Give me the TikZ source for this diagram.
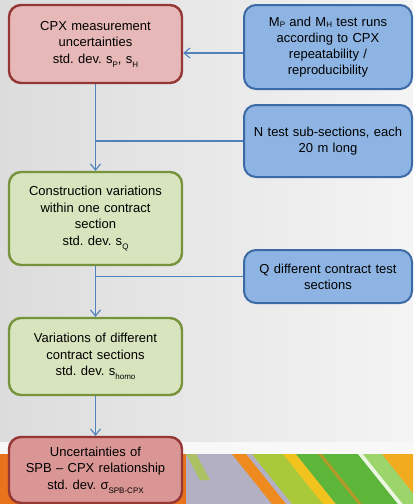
\documentclass[tikz,border=0pt]{standalone}
\usepackage{fontspec}
\setmainfont{Liberation Sans}
\usetikzlibrary{arrows.meta}
\frenchspacing
\definecolor{redfillA}{HTML}{E6B9B8}
\definecolor{redfillB}{HTML}{D99694}
\definecolor{redline}{HTML}{953735}
\definecolor{greenfill}{HTML}{D7E4BD}
\definecolor{greenline}{HTML}{77933C}
\definecolor{bluefill}{HTML}{8DB4E2}
\definecolor{blueline}{HTML}{3C6AA5}
\definecolor{conn}{HTML}{4F81BD}
\definecolor{bgl}{HTML}{DCDCDC}
\definecolor{bgr}{HTML}{F4F4F4}
\definecolor{orangeS}{HTML}{E8731C}
\definecolor{stripgray}{HTML}{B2B0C2}
\definecolor{stripor}{HTML}{EE8A1E}
\definecolor{stripyg}{HTML}{A9C83A}
\definecolor{stripyel}{HTML}{F2C21E}
\definecolor{stripgr}{HTML}{5DB53A}
\definecolor{striplg}{HTML}{9CD66A}
\newcommand\lowsub[1]{\raisebox{-4pt}{\fontsize{8}{8}\selectfont #1}}
\newcommand\msub[1]{\raisebox{-1pt}{\fontsize{8}{8}\selectfont #1}}
\begin{document}
\begin{tikzpicture}[x=1pt,y=-1pt,
  box/.style={rounded corners=12pt, align=center, inner sep=2pt,
    font=\fontsize{13}{16.5}\selectfont, text=black},
  redbox/.style={box, draw=redline, fill=redfillA, line width=2.4pt, minimum width=173pt, text width=165pt},
  greenbox/.style={box, draw=greenline, fill=greenfill, line width=2.4pt, minimum width=173pt, text width=165pt},
  bluebox/.style={box, draw=blueline, fill=bluefill, line width=2pt, minimum width=168pt, text width=160pt, font=\fontsize{13}{16}\selectfont},
  conline/.style={draw=conn, line width=1.1pt},
  arr/.style={conline, -{Straight Barb[length=6pt,width=10pt]}}
]
\useasboundingbox (0,0) rectangle (413,504);
% background
\shade[left color=bgl, right color=bgr] (0,0) rectangle (413,454);
\fill[white!40!bgr] (0,442) rectangle (413,454);
\fill[orangeS] (0,454) rectangle (186,504);
\fill[stripgray] (186,454) rectangle (413,504);
\fill[stripyg!70!stripgray] (186,454) -- (196,454) -- (210,480) -- (200,480) -- cycle;
\fill[stripor] (232,454) -- (246,454) -- (286,504) -- (272,504) -- cycle;
\fill[stripyg] (252,454) -- (288,454) -- (328,504) -- (292,504) -- cycle;
\fill[stripyel] (283,454) -- (296,454) -- (336,504) -- (323,504) -- cycle;
\fill[stripgr] (296,454) -- (358,454) -- (398,504) -- (336,504) -- cycle;
\fill[stripor!60!stripgr] (318,454) -- (322,454) -- (362,504) -- (358,504) -- cycle;
\fill[white!80!striplg] (358,454) -- (363,454) -- (403,504) -- (398,504) -- cycle;
\fill[striplg] (363,454) -- (382,454) -- (413,493) -- (413,504) -- (403,504) -- cycle;
\fill[stripyel!60!stripor] (382,454) -- (413,454) -- (413,493) -- cycle;
% nodes
\node[redbox, minimum height=78pt] (red1) at (95.5,44)
  {CPX measurement\\uncertainties\\std. dev. s\lowsub{P}, s\lowsub{H}};
\node[bluebox, minimum height=84pt] (blue1) at (328,47)
  {M\msub{P} and M\msub{H} test runs\\according to CPX\\repeatability /\\reproducibility};
\node[bluebox, minimum height=72pt] (blue2) at (328,141)
  {N test sub-sections, each\\20 m long};
\node[greenbox, minimum height=93pt] (green1) at (95.5,218.5)
  {Construction variations\\within one contract\\section\\std. dev. s\lowsub{Q}};
\node[bluebox, minimum height=53pt] (blue3) at (328,276.5)
  {Q different contract test\\sections};
\node[greenbox, minimum height=77pt] (green2) at (95.5,356.5)
  {Variations of different\\contract sections\\std. dev. s\lowsub{homo}};
\node[redbox, fill=redfillB, minimum height=66pt] (red2) at (95.5,470)
  {Uncertainties of\\SPB -- CPX relationship\\std. dev. σ\lowsub{SPB-CPX}};
% connectors
\draw[arr] ([yshift=-6pt]blue1.west) -- ([yshift=-6pt]blue1.west -| red1.east);
\draw[arr] (red1.south) -- (green1.north);
\draw[conline] (blue2.west) -- (blue2.west -| red1.south);
\draw[arr] (green1.south) -- (green2.north);
\draw[conline] (blue3.west) -- (blue3.west -| green1.south);
\draw[arr] (green2.south) -- (red2.north);
\end{tikzpicture}
\end{document}
